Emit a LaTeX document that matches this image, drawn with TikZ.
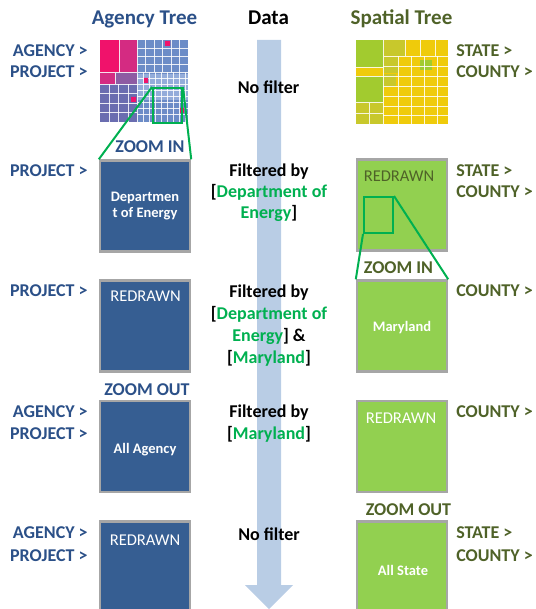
\documentclass[tikz,border=0pt]{standalone}
\usepackage{fontspec}
\setmainfont{Carlito}
\usepackage{xcolor}
\usepackage{tikz}
\usetikzlibrary{positioning}

\definecolor{agencyblue}{HTML}{365E92}
\definecolor{agencytext}{HTML}{2B5088}
\definecolor{spatialgreen}{HTML}{92D050}
\definecolor{spatialtext}{HTML}{4F6228}
\definecolor{filtergreen}{HTML}{00B050}
\definecolor{databar}{HTML}{B9CDE5}
\definecolor{boxrim}{HTML}{A6A6A6}
\definecolor{tmblue}{HTML}{6C8CC7}
\definecolor{tmdeep}{HTML}{6A6DB0}
\definecolor{tmpale}{HTML}{93ACDA}
\definecolor{tmpink}{HTML}{F0126B}
\definecolor{tmrose}{HTML}{D42B82}
\definecolor{tmviolet}{HTML}{8E5BA3}
\definecolor{tmyellow}{HTML}{EFCB0B}
\definecolor{tmgreen}{HTML}{A2CB2F}
\definecolor{tmolive}{HTML}{C8C82C}

\begin{document}
\begin{tikzpicture}[x=1pt,y=-1pt,semithick]
  \tikzstyle{every node}=[inner sep=0pt]
  \tikzstyle{treebox}=[draw=boxrim,line width=2.4pt,minimum width=90pt,minimum height=91pt]
  \tikzstyle{agencybox}=[treebox,fill=agencyblue]
  \tikzstyle{spatialbox}=[treebox,fill=spatialgreen]
  \tikzstyle{head}=[anchor=base,font=\fontsize{21}{24}\selectfont\bfseries]
  \tikzstyle{lvl}=[font=\fontsize{18}{21}\selectfont\bfseries]
  \tikzstyle{agencylvl}=[lvl,text=agencytext,anchor=base east]
  \tikzstyle{spatiallvl}=[lvl,text=spatialtext,anchor=base west]
  \tikzstyle{datatext}=[lvl,anchor=base]
  \tikzstyle{boxlabel}=[anchor=base,text=white,font=\fontsize{14.5}{16}\selectfont\bfseries]
  \tikzstyle{redrawn}=[anchor=base,text=white,font=\fontsize{16.5}{18}\selectfont\mdseries]
  \tikzstyle{zoomframe}=[draw=filtergreen,line width=2pt]
  \tikzstyle{zoomline}=[draw=filtergreen,line width=2pt]
  \tikzstyle{tmline}=[white,line width=0.5pt,opacity=0.85]

  \useasboundingbox (0,0) rectangle (535,609);

  % Data arrow
  \fill[databar] (257,40) -- (281,40) -- (281,585) -- (293,585) -- (269,609)
    -- (245,585) -- (257,585) -- cycle;

  % Headings
  \node[head,text=agencytext] (agency) at (144.5,25) {Agency Tree};
  \node[head] (data) at (268.5,25) {Data};
  \node[head,text=spatialtext] (spatial) at (401.5,25) {Spatial Tree};

  % Agency treemap
  \fill[tmblue] (100,40) rectangle (188,122);
  \fill[tmpale] (137,74) rectangle (188,100);
  \fill[tmdeep] (100,84) rectangle (137,122);
  \fill[tmpink] (100,40) rectangle (119,72);
  \fill[tmrose] (119,40) rectangle (137,72);
  \fill[tmrose] (100,72) rectangle (115,84);
  \fill[tmviolet] (115,72) rectangle (137,84);
  \foreach \x in {145.5,154,162.5,171,179.5} \draw[tmline] (\x,40) -- (\x,72);
  \foreach \y in {48,56,64} \draw[tmline] (137,\y) -- (188,\y);
  \foreach \x in {109.25,118.5,127.75} \draw[tmline] (\x,84) -- (\x,122);
  \foreach \y in {93.5,103,112.5} \draw[tmline] (100,\y) -- (137,\y);
  \foreach \x in {143,149,155,161,167,173,179,185} \draw[tmline] (\x,72) -- (\x,122);
  \foreach \y in {78,84,90,96,102,108,114} \draw[tmline] (137,\y) -- (188,\y);
  \draw[tmline] (119,40) -- (119,72) (100,72) -- (188,72) (137,40) -- (137,122)
    (100,84) -- (137,84) (115,72) -- (115,84);
  \fill[tmpink] (165,41) rectangle (170,46) (144,78) rectangle (148,83)
    (180,108) rectangle (184,113) (131,97) rectangle (136,102);

  % Spatial treemap
  \fill[tmyellow] (356,40) rectangle (448,124);
  \fill[tmgreen] (356,40) rectangle (383,67);
  \fill[tmgreen] (356,76) rectangle (383,102);
  \fill[tmolive] (356,102) rectangle (383,124);
  \fill[tmolive] (383,40) rectangle (405,56);
  \fill[tmolive] (383,57) rectangle (398,73);
  \fill[tmolive] (383,74) rectangle (396,87);
  \fill[tmgreen] (420,60) rectangle (432,70);
  \foreach \x in {398,411,424,437} \draw[tmline] (\x,56) -- (\x,124);
  \foreach \y in {66,76,86,96,106,115} \draw[tmline] (383,\y) -- (448,\y);
  \draw[tmline] (383,40) -- (383,124) (356,67) -- (383,67) (356,76) -- (383,76)
    (356,102) -- (383,102) (383,56) -- (448,56) (420,40) -- (420,56)
    (435,40) -- (435,56) (405,40) -- (405,56) (369,102) -- (369,124)
    (356,113) -- (383,113);

  % Agency boxes
  \node[agencybox] (lb1) at (145,206) {};
  \node[agencybox] (lb2) at (145,326) {};
  \node[agencybox] (lb3) at (145,446.5) {};
  \node[agencybox] (lb4) at (145,567) {};
  \node[boxlabel] (doe1) at (145,202) {Departmen};
  \node[boxlabel] (doe2) at (145,218) {t of Energy};
  \node[redrawn] (lr2) at (145.5,301) {REDRAWN};
  \node[boxlabel] (allag) at (145,453) {All Agency};
  \node[redrawn] (lr4) at (145,545) {REDRAWN};

  % Spatial boxes
  \node[spatialbox] (rb1) at (402,205) {};
  \node[spatialbox] (rb2) at (402,326) {};
  \node[spatialbox] (rb3) at (402,446.5) {};
  \node[spatialbox] (rb4) at (402,567) {};
  \node[redrawn,text=spatialtext] (rr1) at (399,182) {REDRAWN};
  \node[boxlabel] (md) at (402,331) {Maryland};
  \node[redrawn] (rr3) at (401,423) {REDRAWN};
  \node[boxlabel] (allst) at (403,575) {All State};

  % Zoom frames and lines
  \node[zoomframe,minimum width=29pt,minimum height=35pt] (lzoom) at (167.5,105.5) {};
  \node[zoomframe,minimum width=29pt,minimum height=36pt] (rzoom) at (378.5,215) {};
  \draw[zoomline] (lzoom.north west) -- (lb1.north west);
  \draw[zoomline] (lzoom.north east) -- (lb1.north east);
  \draw[zoomline] (rzoom.south west) -- (rb2.north west);
  \draw[zoomline] (rzoom.north east) -- (rb2.north east);

  % Zoom captions
  \node[lvl,anchor=base,text=agencytext] (lzin) at (150,153) {ZOOM IN};
  \node[lvl,anchor=base,text=agencytext] (lzout) at (147,395) {ZOOM OUT};
  \node[lvl,anchor=base,text=spatialtext] (rzin) at (398.5,273) {ZOOM IN};
  \node[lvl,anchor=base,text=spatialtext] (rzout) at (408.5,515) {ZOOM OUT};

  % Agency levels
  \node[agencylvl] (la1) at (88,56.5) {AGENCY >};
  \node[agencylvl] (lp1) at (88,78) {PROJECT >};
  \node[agencylvl] (lp2) at (88,177) {PROJECT >};
  \node[agencylvl] (lp3) at (88,296) {PROJECT >};
  \node[agencylvl] (la4) at (88,417) {AGENCY >};
  \node[agencylvl] (lp4) at (88,439) {PROJECT >};
  \node[agencylvl] (la5) at (88,538) {AGENCY >};
  \node[agencylvl] (lp5) at (88,561) {PROJECT >};

  % Spatial levels
  \node[spatiallvl] (rs1) at (456,56.5) {STATE >};
  \node[spatiallvl] (rc1) at (456,78) {COUNTY >};
  \node[spatiallvl] (rs2) at (456,177) {STATE >};
  \node[spatiallvl] (rc2) at (456,198) {COUNTY >};
  \node[spatiallvl] (rc3) at (456,296) {COUNTY >};
  \node[spatiallvl] (rc4) at (456,417) {COUNTY >};
  \node[spatiallvl] (rs5) at (456,538) {STATE >};
  \node[spatiallvl] (rc5) at (456,561) {COUNTY >};

  % Filters
  \node[datatext] (nf1) at (268.5,93.5) {No filter};
  \node[datatext] (f1a) at (269,177) {Filtered by};
  \node[datatext] (f1b) at (269,198) {[\textcolor{filtergreen}{Department of}};
  \node[datatext] (f1c) at (269,219) {\textcolor{filtergreen}{Energy}]};
  \node[datatext] (f2a) at (269,297) {Filtered by};
  \node[datatext] (f2b) at (269,319) {[\textcolor{filtergreen}{Department of}};
  \node[datatext] (f2c) at (269,341) {\textcolor{filtergreen}{Energy}] \&};
  \node[datatext] (f2d) at (269,363) {[\textcolor{filtergreen}{Maryland}]};
  \node[datatext] (f3a) at (269,417) {Filtered by};
  \node[datatext] (f3b) at (269,439) {[\textcolor{filtergreen}{Maryland}]};
  \node[datatext] (nf2) at (269,540) {No filter};
\end{tikzpicture}
\end{document}
